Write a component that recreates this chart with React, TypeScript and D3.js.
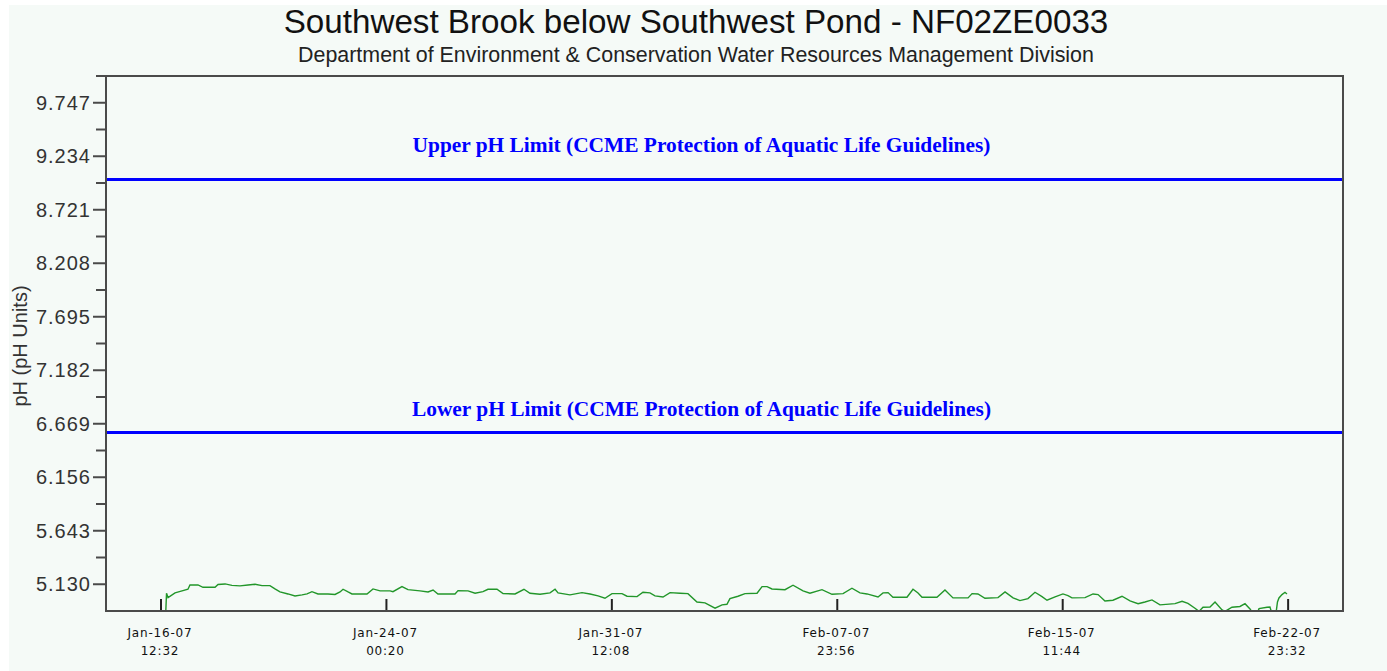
import React from "react";
import * as d3 from "d3";

const TITLE = "Southwest Brook below Southwest Pond - NF02ZE0033";
const SUBTITLE = "Department of Environment & Conservation Water Resources Management Division";
const Y_LABEL = "pH (pH Units)";
const UPPER_LABEL = "Upper pH Limit (CCME Protection of Aquatic Life Guidelines)";
const LOWER_LABEL = "Lower pH Limit (CCME Protection of Aquatic Life Guidelines)";
const UPPER_LIMIT = 9.01;
const LOWER_LIMIT = 6.585;
const Y_DOMAIN = [4.8735, 10.0035];
const Y_TICKS = [5.13, 5.643, 6.156, 6.669, 7.182, 7.695, 8.208, 8.721, 9.234, 9.747];
const X_TICKS = [
  "2007-01-16T12:32",
  "2007-01-24T00:20",
  "2007-01-31T12:08",
  "2007-02-07T23:56",
  "2007-02-15T11:44",
  "2007-02-22T23:32",
];
const X_DOMAIN = ["2007-01-14T16:40", "2007-02-24T19:18"];
const RECORD_START = "2007-01-16T12:32";

// hours elapsed since RECORD_START
const HOURS = [
  3.6, 4.4, 5.6, 11.2, 16.8, 21.5, 23.1, 29.5, 33.5, 43.1,
  45.5, 51.1, 56.6, 63.0, 69.4, 75.0, 80.6, 86.9, 90.9, 94.9,
  101.3, 106.9, 112.5, 116.5, 120.4, 125.2, 133.2, 138.8, 142.8, 145.2,
  149.2, 152.3, 164.3, 169.1, 174.7, 182.7, 185.0, 192.2, 197.0, 206.6,
  213.0, 217.0, 220.9, 234.5, 236.9, 244.9, 250.5, 256.8, 260.8, 268.0,
  272.8, 282.4, 289.5, 294.3, 302.3, 310.3, 314.3, 316.7, 326.2, 335.8,
  342.2, 348.6, 354.1, 359.7, 367.7, 371.7, 379.7, 384.4, 390.0, 394.0,
  400.4, 406.0, 414.0, 420.3, 427.5, 433.9, 441.9, 447.5, 451.4, 453.8,
  460.2, 465.8, 475.4, 479.4, 483.4, 487.3, 497.7, 504.1, 512.1, 517.6,
  527.2, 535.2, 544.0, 551.1, 557.5, 563.1, 571.9, 575.9, 579.9, 583.8,
  595.0, 599.8, 603.8, 607.0, 618.9, 625.3, 631.7, 643.7, 646.9, 651.6,
  657.2, 667.6, 673.2, 679.6, 685.1, 691.5, 697.1, 702.7, 706.7, 713.1,
  719.4, 723.4, 726.6, 737.0, 743.4, 747.4, 752.9, 759.3, 766.5, 772.9,
  779.3, 784.8, 790.4, 796.8, 808.8, 814.4, 819.1, 824.7, 827.9, 831.1,
  836.7, 840.7, 846.3, 848.7, 854.2, 860.6, 864.6, 868.6, 871.0, 874.2,
  875.8, 882.2, 884.5, 886.1, 889.3, 890.5, 891.7, 894.1, 896.5, 898.1,
];

const PH = [
  4.80, 5.044, 5.002, 5.047, 5.066, 5.082, 5.123, 5.123, 5.101, 5.101,
  5.128, 5.133, 5.119, 5.114, 5.123, 5.130, 5.117, 5.117, 5.085, 5.056,
  5.037, 5.018, 5.028, 5.037, 5.059, 5.037, 5.037, 5.032, 5.056, 5.082,
  5.056, 5.037, 5.037, 5.085, 5.066, 5.066, 5.059, 5.107, 5.078, 5.066,
  5.056, 5.075, 5.037, 5.037, 5.069, 5.066, 5.044, 5.059, 5.082, 5.082,
  5.040, 5.037, 5.082, 5.044, 5.034, 5.047, 5.082, 5.047, 5.028, 5.050,
  5.037, 5.018, 4.996, 5.040, 5.040, 5.015, 5.011, 5.053, 5.047, 5.018,
  5.008, 5.050, 5.044, 5.040, 4.960, 4.951, 4.900, 4.932, 4.938, 4.992,
  5.015, 5.040, 5.044, 5.107, 5.107, 5.085, 5.078, 5.121, 5.066, 5.044,
  5.078, 5.034, 5.040, 5.092, 5.047, 5.037, 5.008, 5.047, 5.050, 5.005,
  5.005, 5.082, 5.047, 5.005, 5.005, 5.075, 4.999, 4.999, 5.040, 5.037,
  4.996, 5.002, 5.056, 4.999, 4.973, 4.992, 5.053, 5.011, 4.977, 5.008,
  5.037, 5.021, 4.999, 5.002, 5.037, 5.031, 4.970, 4.977, 5.015, 4.970,
  4.944, 4.960, 4.980, 4.932, 4.944, 4.967, 4.946, 4.900, 4.870, 4.910,
  4.912, 4.960, 4.884, 4.870, 4.910, 4.917, 4.944, 4.893, 4.85, 4.85,
  4.896, 4.910, 4.912, 4.85, 4.85, 4.960, 4.999, 5.031, 5.053, 5.037,
];

const W = 1387;
const H = 671;
const M = { left: 106, right: 1343, top: 76, bottom: 611 };

const parse = d3.timeParse("%Y-%m-%dT%H:%M");
const fmtDate = d3.timeFormat("%b-%d-%y");
const fmtTime = d3.timeFormat("%H:%M");

export default function App() {
  const x = d3
    .scaleTime()
    .domain(X_DOMAIN.map((s) => parse(s) as Date))
    .range([M.left, M.right]);
  const y = d3.scaleLinear().domain(Y_DOMAIN).range([M.bottom, M.top]);

  const start = (parse(RECORD_START) as Date).getTime();
  const data = HOURS.map((h, i) => ({ t: new Date(start + h * 3600000), v: PH[i] }));
  const line = d3
    .line<{ t: Date; v: number }>()
    .x((d) => x(d.t))
    .y((d) => y(d.v));

  const xTicks = X_TICKS.map((s) => parse(s) as Date);
  const minorTicks = d3.pairs(Y_TICKS).map(([a, b]) => (a + b) / 2);
  const step = Y_TICKS[1] - Y_TICKS[0];
  minorTicks.push(Y_TICKS[Y_TICKS.length - 1] + step / 2);

  const axisColor = "#4a4a4a";
  const sans = "'Liberation Sans', Arial, sans-serif";
  const serif = "'Liberation Serif', 'Times New Roman', serif";

  return (
    <svg
      width={W}
      height={H}
      style={{ position: "absolute", left: 0, top: 0, display: "block" }}
    >
      <rect x={0} y={0} width={W} height={H} fill="#ffffff" />
      <rect x={9} y={5} width={W - 9} height={H - 5} fill="#f5faf7" />

      <text x={696} y={33} textAnchor="middle" fontFamily={sans} fontSize={33.2} fill="#111">
        {TITLE}
      </text>
      <text x={696} y={62} textAnchor="middle" fontFamily={sans} fontSize={21.4} fill="#222">
        {SUBTITLE}
      </text>

      <defs>
        <clipPath id="plotClip">
          <rect x={M.left} y={M.top} width={M.right - M.left} height={M.bottom - M.top} />
        </clipPath>
      </defs>

      {/* limit lines */}
      <line x1={M.left} x2={M.right} y1={y(UPPER_LIMIT)} y2={y(UPPER_LIMIT)} stroke="#0000ff" strokeWidth={3} />
      <line x1={M.left} x2={M.right} y1={y(LOWER_LIMIT)} y2={y(LOWER_LIMIT)} stroke="#0000ff" strokeWidth={3} />
      <text
        x={701.5}
        y={y(UPPER_LIMIT) - 28}
        textAnchor="middle"
        fontFamily={serif}
        fontWeight="bold"
        fontSize={21.4}
        fill="#0000ff"
      >
        {UPPER_LABEL}
      </text>
      <text
        x={701.5}
        y={y(LOWER_LIMIT) - 17}
        textAnchor="middle"
        fontFamily={serif}
        fontWeight="bold"
        fontSize={21.4}
        fill="#0000ff"
      >
        {LOWER_LABEL}
      </text>

      {/* data */}
      <path
        d={line(data) ?? ""}
        fill="none"
        stroke="#22962a"
        strokeWidth={1.4}
        clipPath="url(#plotClip)"
      />

      {/* x ticks (inside) */}
      {xTicks.map((t, i) => (
        <g key={i}>
          <line x1={x(t)} x2={x(t)} y1={M.bottom - 12} y2={M.bottom} stroke="#222" strokeWidth={2} />
          <text
            x={x(t) - 1}
            y={637}
            textAnchor="middle"
            fontFamily="'DejaVu Sans', Verdana, sans-serif"
            fontSize={12}
            letterSpacing={0.8}
            fill="#111"
          >
            {fmtDate(t)}
          </text>
          <text
            x={x(t) - 1}
            y={655}
            textAnchor="middle"
            fontFamily="'DejaVu Sans', Verdana, sans-serif"
            fontSize={12}
            letterSpacing={0.8}
            fill="#111"
          >
            {fmtTime(t)}
          </text>
        </g>
      ))}

      {/* y ticks */}
      {Y_TICKS.map((v, i) => (
        <g key={i}>
          <line x1={M.left - 13} x2={M.left} y1={y(v)} y2={y(v)} stroke={axisColor} strokeWidth={2} />
          <text
            x={91}
            y={y(v) + 7}
            textAnchor="end"
            fontFamily={sans}
            fontSize={20}
            letterSpacing={1}
            fill="#333"
          >
            {v.toFixed(3)}
          </text>
        </g>
      ))}
      {minorTicks.map((v, i) => (
        <line key={i} x1={M.left - 10} x2={M.left} y1={y(v)} y2={y(v)} stroke={axisColor} strokeWidth={2} />
      ))}

      {/* frame */}
      <rect
        x={M.left}
        y={M.top}
        width={M.right - M.left}
        height={M.bottom - M.top}
        fill="none"
        stroke={axisColor}
        strokeWidth={2}
      />

      <text
        transform={`translate(27, 346) rotate(-90)`}
        textAnchor="middle"
        fontFamily={sans}
        fontSize={20}
        fill="#333"
      >
        {Y_LABEL}
      </text>
    </svg>
  );
}
